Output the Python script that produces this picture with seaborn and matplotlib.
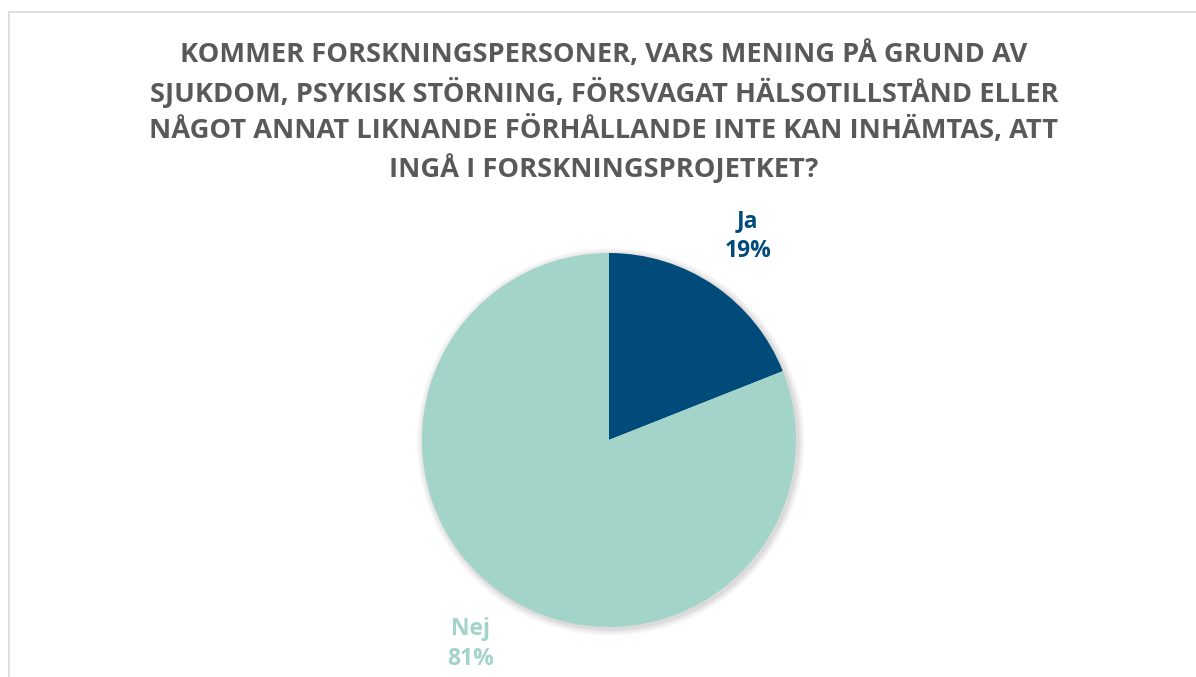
import matplotlib.pyplot as plt
import seaborn as sns
from matplotlib.patches import Rectangle, Circle

# ---------------------------------------------------
# Data
# ---------------------------------------------------

categories = ["Ja", "Nej"]
shares = [19, 81]
colors = ["#004B7A", "#A3D4CA"]

title = ("KOMMER FORSKNINGSPERSONER, VARS MENING PÅ GRUND AV\n"
         "SJUKDOM, PSYKISK STÖRNING, FÖRSVAGAT HÄLSOTILLSTÅND ELLER\n"
         "NÅGOT ANNAT LIKNANDE FÖRHÅLLANDE INTE KAN INHÄMTAS, ATT\n"
         "INGÅ I FORSKNINGSPROJETKET?")

sns.set_theme(style="white")
plt.rcParams["font.family"] = ["Open Sans", "DejaVu Sans"]

fig = plt.figure(figsize=(11.96, 6.77), dpi=100)

# chart frame (only top and left edges visible)
fig.patches.append(Rectangle((9 / 1196, -0.1), 1.2, (677 - 12) / 677 + 0.1,
                             transform=fig.transFigure, fill=False,
                             edgecolor="#D9D9D9", linewidth=1.2))

ax = fig.add_axes([0.3528, 0.0739, 0.3127, 0.5524])

# soft shadow behind the pie
for r in [1.035, 1.025, 1.015, 1.008]:
    ax.add_patch(Circle((0.01, -0.01), r, color="#000000", alpha=0.035,
                        linewidth=0, zorder=0))

labels = [f"{c}\n{v}%" for c, v in zip(categories, shares)]
wedges, texts = ax.pie(shares, labels=labels, colors=colors, startangle=90,
                       counterclock=False, labeldistance=1.32,
                       wedgeprops=dict(linewidth=0, zorder=2),
                       textprops=dict(fontsize=16.5, fontweight="bold",
                                      ha="center", va="center",
                                      linespacing=1.34))
for t, c in zip(texts, colors):
    t.set_color(c)
    t.set_clip_on(False)
ax.set_xlim(-1, 1)
ax.set_ylim(-1, 1)
ax.set_aspect("equal")
for p in ax.patches:
    p.set_clip_on(False)

fig.text(0.505, (677 - 112) / 677, title, ha="center", va="center",
         fontsize=19.6, fontweight="bold", color="#595959", linespacing=1.37)

plt.savefig("out.png", dpi=100)
plt.close()
